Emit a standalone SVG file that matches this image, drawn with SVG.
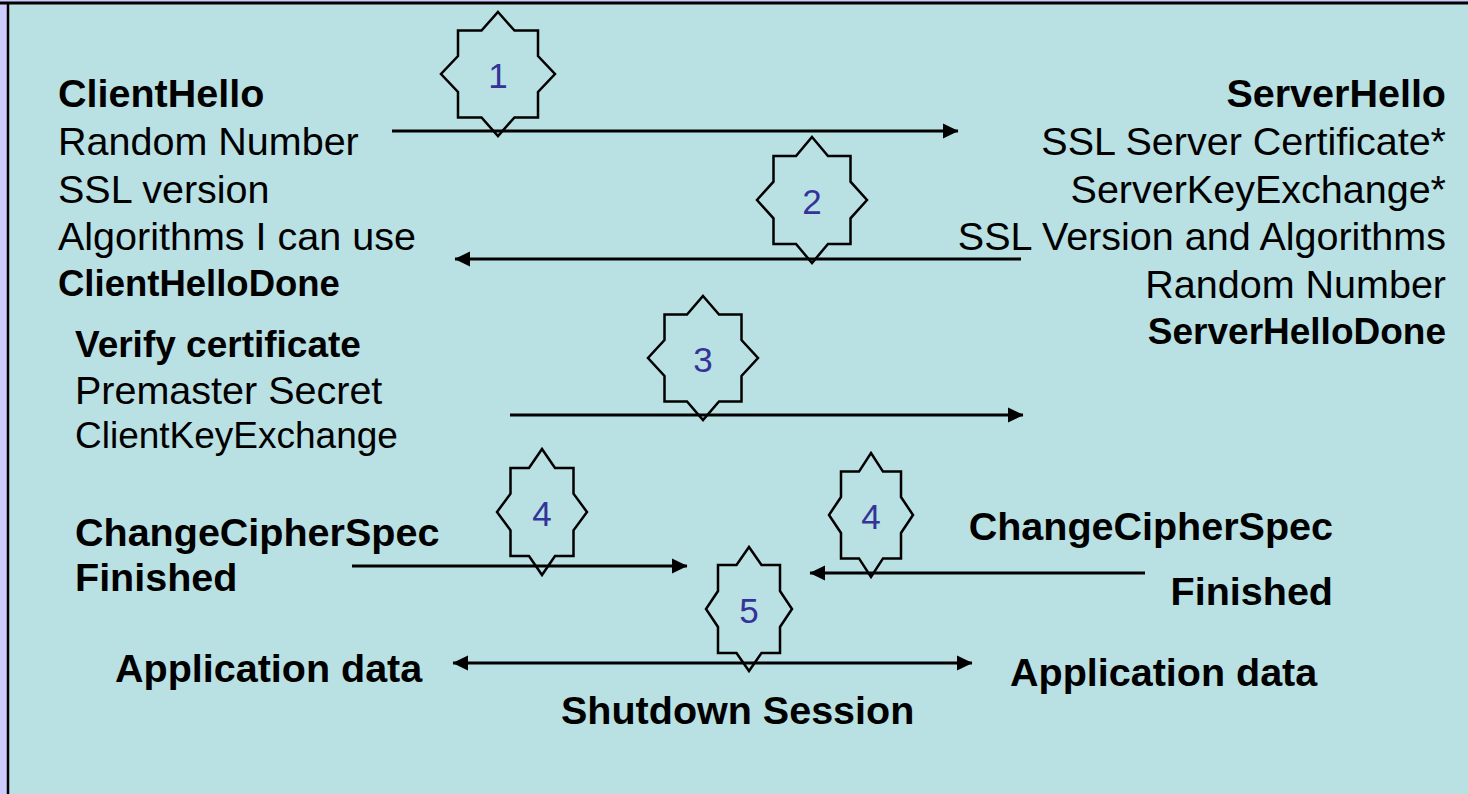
<svg xmlns="http://www.w3.org/2000/svg" width="1468" height="794" viewBox="0 0 1468 794">
<defs>
<style>
.t{font-family:"Liberation Sans",Arial,sans-serif;font-size:39.5px;fill:#000}
.b{font-weight:bold}
.r{text-anchor:end}
.star{fill:none;stroke:#000;stroke-width:2.5;stroke-linejoin:miter}
.num{font-family:"Liberation Sans",Arial,sans-serif;font-size:35px;fill:#333399;text-anchor:middle}
.ln{stroke:#000;stroke-width:3;fill:none}
</style>
<marker id="ah" markerUnits="userSpaceOnUse" markerWidth="16" markerHeight="16" viewBox="0 0 16 16" refX="15" refY="8" orient="auto-start-reverse">
<path d="M0,0.5 L15.5,8 L0,15.5 Z" fill="#000"/>
</marker>
</defs>
<rect x="0" y="0" width="1468" height="794" fill="#CCCCFF"/>
<rect x="8" y="3" width="1462" height="793" fill="#B9E0E3"/>
<line x1="0" y1="3" x2="1468" y2="3" stroke="#000" stroke-width="3"/>
<line x1="8" y1="3" x2="8" y2="794" stroke="#000" stroke-width="2.5"/>

<g id="connectors">
<line class="ln" x1="392" y1="131" x2="958" y2="131" marker-end="url(#ah)"/>
<line class="ln" x1="1021" y1="259" x2="455" y2="259" marker-end="url(#ah)"/>
<line class="ln" x1="510" y1="415" x2="1023" y2="415" marker-end="url(#ah)"/>
<line class="ln" x1="352" y1="566" x2="687" y2="566" marker-end="url(#ah)"/>
<line class="ln" x1="1145" y1="573" x2="810" y2="573" marker-end="url(#ah)"/>
<line class="ln" x1="453" y1="663" x2="972" y2="663" marker-start="url(#ah)" marker-end="url(#ah)"/>
</g>

<g id="client-hello">
<text class="t b" x="58" y="107">ClientHello</text>
<text class="t" x="58" y="155">Random Number</text>
<text class="t" x="58" y="203">SSL version</text>
<text class="t" x="58" y="250">Algorithms I can use</text>
<text class="t b" x="58" y="296" style="font-size:36.5px">ClientHelloDone</text>
</g>

<g id="server-hello">
<text class="t b r" x="1446" y="107">ServerHello</text>
<text class="t r" x="1446" y="155">SSL Server Certificate*</text>
<text class="t r" x="1446" y="203">ServerKeyExchange*</text>
<text class="t r" x="1446" y="250">SSL Version and Algorithms</text>
<text class="t r" x="1446" y="298">Random Number</text>
<text class="t b r" x="1446" y="344" style="font-size:37px">ServerHelloDone</text>
</g>

<g id="client-key">
<text class="t b" x="75" y="357" style="font-size:37px">Verify certificate</text>
<text class="t" x="75" y="404">Premaster Secret</text>
<text class="t" x="75" y="448" style="font-size:37px">ClientKeyExchange</text>
</g>

<g id="client-finished">
<text class="t b" x="75" y="546">ChangeCipherSpec</text>
<text class="t b" x="75" y="591">Finished</text>
</g>

<g id="server-finished">
<text class="t b r" x="1333" y="540">ChangeCipherSpec</text>
<text class="t b r" x="1333" y="605">Finished</text>
</g>

<g id="app-data">
<text class="t b" x="115" y="682">Application data</text>
<text class="t b" x="1010" y="686">Application data</text>
<text class="t b" x="561" y="724">Shutdown Session</text>
</g>

<g id="step1">
<polygon class="star" points="498,12 514.5,30.6 538,30.6 538,56 555,74 538,92 538,117.4 514.5,117.4 498,136 481.5,117.4 458,117.4 458,92 441,74 458,56 458,30.6 481.5,30.6"/>
<text class="num" x="498" y="88">1</text>
</g>
<g id="step2">
<polygon class="star" points="812,137 828,156 850.5,156 850.5,181.7 867,200 850.5,218.3 850.5,244 828,244 812,263 796,244 773.5,244 773.5,218.3 757,200 773.5,181.7 773.5,156 796,156"/>
<text class="num" x="812" y="214">2</text>
</g>
<g id="step3">
<polygon class="star" points="703,296 719,314.6 741.5,314.6 741.5,340 758,358 741.5,376 741.5,401.4 719,401.4 703,420 687,401.4 664.5,401.4 664.5,376 648,358 664.5,340 664.5,314.6 687,314.6"/>
<text class="num" x="703" y="372">3</text>
</g>
<g id="step4-client">
<polygon class="star" points="542,449 555,468 573.5,468 573.5,493.7 587,512 573.5,530.3 573.5,556 555,556 542,575 529,556 510.5,556 510.5,530.3 497,512 510.5,493.7 510.5,468 529,468"/>
<text class="num" x="542" y="526">4</text>
</g>
<g id="step4-server">
<polygon class="star" points="871,453 883,471.6 901,471.6 901,497 913,515 901,533 901,558.4 883,558.4 871,577 859,558.4 841,558.4 841,533 829,515 841,497 841,471.6 859,471.6"/>
<text class="num" x="871" y="529">4</text>
</g>
<g id="step5">
<polygon class="star" points="749,547 761.5,565 780,565 780,591 792,609 780,627 780,653 761.5,653 749,671 736.5,653 718,653 718,627 706,609 718,591 718,565 736.5,565"/>
<text class="num" x="749" y="623">5</text>
</g>
</svg>
